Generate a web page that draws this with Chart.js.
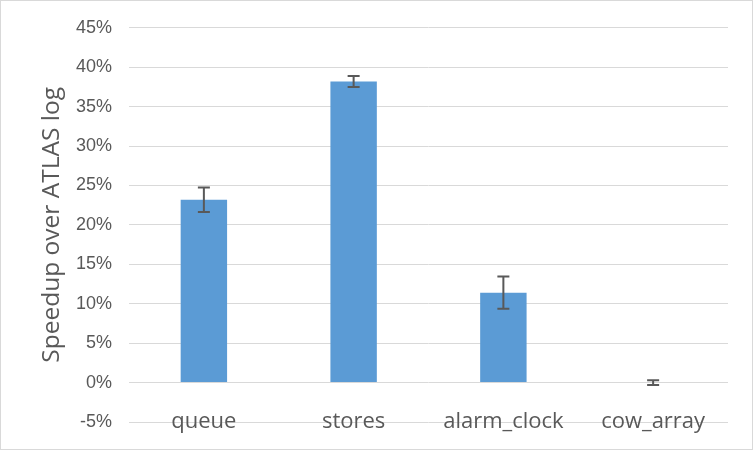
<!DOCTYPE html>
<html>
<head>
<meta charset="utf-8">
<script src="https://cdn.jsdelivr.net/npm/chart.js@4/dist/chart.umd.min.js"></script>
<style>
  html, body { margin: 0; padding: 0; background: #fff; }
</style>
</head>
<body>
<canvas id="chart" width="753" height="450"></canvas>
<script>
const categories = ['queue', 'stores', 'alarm_clock', 'cow_array'];
const speedup = [23.2, 38.2, 11.4, 0];
const errors = [1.55, 0.7, 2.05, 0.3];

// outer frame + error bars drawn from the y scale
const errorBars = {
  id: 'errorBars',
  beforeDraw(chart) {
    const ctx = chart.ctx;
    ctx.save();
    ctx.strokeStyle = '#d9d9d9';
    ctx.lineWidth = 1;
    ctx.strokeRect(0.5, 0.5, chart.width - 1, chart.height - 1);
    ctx.restore();
  },
  afterDatasetsDraw(chart) {
    const ctx = chart.ctx;
    const meta = chart.getDatasetMeta(0);
    const y = chart.scales.y;
    ctx.save();
    ctx.strokeStyle = '#595959';
    ctx.lineWidth = 2;
    meta.data.forEach((bar, i) => {
      const top = y.getPixelForValue(speedup[i] + errors[i]);
      const bot = y.getPixelForValue(speedup[i] - errors[i]);
      const x = bar.x;
      ctx.beginPath();
      ctx.moveTo(x, top); ctx.lineTo(x, bot);
      ctx.moveTo(x - 6, top); ctx.lineTo(x + 6, top);
      ctx.moveTo(x - 6, bot); ctx.lineTo(x + 6, bot);
      ctx.stroke();
    });
    ctx.restore();
  }
};

new Chart(document.getElementById('chart'), {
  type: 'bar',
  data: {
    labels: categories,
    datasets: [{
      data: speedup,
      backgroundColor: '#5b9bd5',
      barPercentage: 1,
      categoryPercentage: 0.31
    }]
  },
  options: {
    responsive: false,
    animation: false,
    devicePixelRatio: 1,
    layout: { padding: { top: 27, right: 25, bottom: 28, left: 0 } },
    plugins: { legend: { display: false }, tooltip: { enabled: false } },
    scales: {
      x: {
        position: { y: 0 },
        grid: { display: false },
        border: { display: false },
        ticks: { color: '#595959', font: { family: 'Open Sans', size: 22 }, padding: 18 }
      },
      y: {
        min: -5, max: 45,
        afterFit: s => { s.width = 129; },
        grid: { color: '#d9d9d9', drawTicks: false },
        border: { display: false },
        ticks: {
          stepSize: 5, padding: 17, color: '#595959',
          font: { family: 'Liberation Sans', size: 18 },
          callback: v => v + '%'
        },
        title: {
          display: true, text: 'Speedup over ATLAS log', color: '#595959',
          font: { family: 'Open Sans', size: 24.5 }, padding: { top: 37, bottom: 0 }
        }
      }
    }
  },
  plugins: [errorBars]
});
</script>
</body>
</html>
